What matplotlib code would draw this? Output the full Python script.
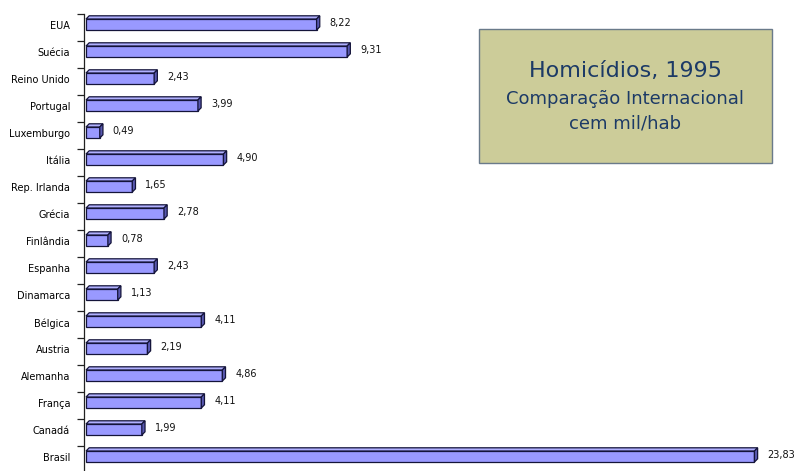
import matplotlib as mpl
mpl.use("Agg")

import matplotlib.pyplot as plt
from matplotlib.patches import Polygon, Rectangle

# Homicides per 100k inhabitants, 1995
COUNTRIES = ["EUA", "Suécia", "Reino Unido", "Portugal", "Luxemburgo", "Itália",
             "Rep. Irlanda", "Grécia", "Finlândia", "Espanha", "Dinamarca",
             "Bélgica", "Austria", "Alemanha", "França", "Canadá", "Brasil"]
RATES = [8.22, 9.31, 2.43, 3.99, 0.49, 4.90, 1.65, 2.78, 0.78, 2.43, 1.13,
         4.11, 2.19, 4.86, 4.11, 1.99, 23.83]

W, H = 794, 471
FRONT = "#9999FF"
TOP = "#B0B0FF"
SIDE = "#5858B0"
EDGE = "#14143a"

plt.rcParams["font.family"] = ["DejaVu Sans"]

fig = plt.figure(figsize=(W / 100, H / 100), dpi=100)

# axes placed in pixel terms: spine at x=84, top at y=14, rows 27 px apart
n = len(COUNTRIES)
ax_left, ax_top, row_px = 84, 14, 27
ax_h = n * row_px
ax = fig.add_axes([ax_left / W, (H - ax_top - ax_h) / H, (W - ax_left) / W, ax_h / H])

px_per_unit = 28.05
x0 = -2.0 / px_per_unit
ax.set_xlim(x0, x0 + (W - ax_left) / px_per_unit)
ax.set_ylim(n - 0.5, -0.5)

dx = 3.2 / px_per_unit     # depth offset in data units (x)
dy = 3.2 / row_px          # depth offset in row units (y)
f_top, f_bot = -0.315, 0.093

for i, v in enumerate(RATES):
    yt, yb = i + f_top, i + f_bot
    ax.add_patch(Rectangle((0, yt), v, yb - yt, facecolor=FRONT, edgecolor=EDGE,
                           linewidth=0.9, zorder=3))
    ax.add_patch(Polygon([(0, yt), (v, yt), (v + dx, yt - dy), (dx, yt - dy)],
                         closed=True, facecolor=TOP, edgecolor=EDGE, linewidth=0.9, zorder=3))
    ax.add_patch(Polygon([(v, yt), (v + dx, yt - dy), (v + dx, yb - dy), (v, yb)],
                         closed=True, facecolor=SIDE, edgecolor=EDGE, linewidth=0.9, zorder=3))
    ax.text(v + 13 / px_per_unit, i - 0.17, f"{v:.2f}".replace(".", ","),
            fontsize=7, va="center", ha="left", color="#111111")

ax.set_yticks([i - 0.08 for i in range(n)])
ax.set_yticklabels(COUNTRIES, fontsize=7)
ax.set_yticks([i - 0.5 for i in range(n + 1)], minor=True)
ax.tick_params(axis="y", which="major", length=0, pad=10)
ax.tick_params(axis="y", which="minor", length=5, width=0.9, direction="out", color="#222222")
ax.set_xticks([])
for side in ["top", "right", "bottom"]:
    ax.spines[side].set_visible(False)
ax.spines["left"].set_linewidth(0.9)
ax.spines["left"].set_color("#222222")

# title box
bx0, by0, bx1, by1 = 479, 29, 772, 163
fig.patches.append(Rectangle((bx0 / W, 1 - by1 / H), (bx1 - bx0) / W, (by1 - by0) / H,
                             transform=fig.transFigure, facecolor="#CCCC99",
                             edgecolor="#6a7a8a", linewidth=1.0, zorder=5))
tc = "#1C3A66"
cx = (bx0 + bx1) / 2 / W
title_font = dict(family=["DejaVu Sans"], color=tc, zorder=6, ha="center", va="baseline")
fig.text(cx, 1 - 77 / H, "Homicídios, 1995", fontsize=16, **title_font)
fig.text(cx, 1 - 104 / H, "Comparação Internacional", fontsize=13, **title_font)
fig.text(cx, 1 - 129 / H, "cem mil/hab", fontsize=13, **title_font)

fig.savefig("out.png", dpi=100)
